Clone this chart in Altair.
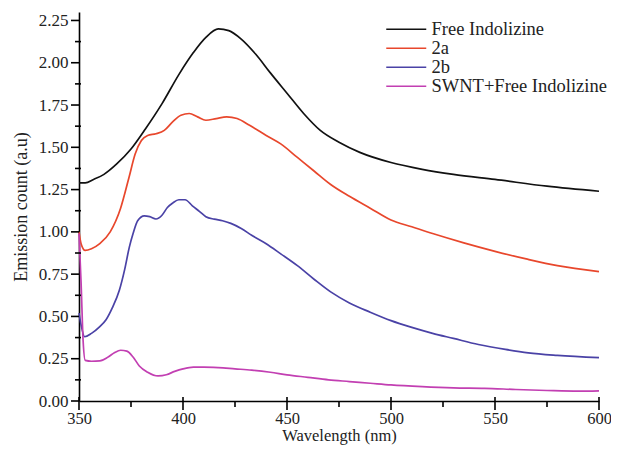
import altair as alt
import pandas as pd

series_names = ["Free Indolizine", "2a", "2b", "SWNT+Free Indolizine"]
series_colors = ["#111111", "#e8472c", "#4a42a6", "#c23fb2"]

wl_free = [350, 353, 357, 362, 368, 375, 382, 390, 398, 405, 411, 417, 422, 428, 435,
           442, 450, 458, 466, 475, 485, 500, 515, 530, 550, 575, 600]
val_free = [1.29, 1.29, 1.31, 1.34, 1.40, 1.49, 1.61, 1.76, 1.93, 2.06, 2.15, 2.20, 2.19,
            2.14, 2.05, 1.94, 1.82, 1.70, 1.60, 1.53, 1.47, 1.41, 1.37, 1.34, 1.31, 1.27, 1.24]

wl_2a = [350, 351, 353, 356, 360, 365, 370, 374, 377, 380, 383, 387, 391, 395, 399, 403,
         407, 411, 416, 421, 426, 432, 440, 447, 455, 463, 471, 480, 490, 500, 510, 520,
         535, 550, 565, 580, 600]
val_2a = [1.00, 0.93, 0.89, 0.90, 0.93, 1.00, 1.14, 1.32, 1.46, 1.54, 1.57, 1.58, 1.60,
          1.65, 1.69, 1.70, 1.68, 1.66, 1.67, 1.68, 1.67, 1.63, 1.57, 1.52, 1.44, 1.36,
          1.28, 1.21, 1.14, 1.07, 1.03, 0.99, 0.935, 0.885, 0.84, 0.80, 0.765]

wl_2b = [350, 351, 352.7, 356, 360, 363, 366, 369.4, 372, 374.2, 376, 378.2, 381.4, 384,
         387, 390, 392.5, 395, 398, 401, 404.5, 408, 411, 415, 419, 423, 428, 433, 440,
         447, 455, 463, 471, 480, 490, 500, 510, 520, 530, 542, 555, 566, 580, 600]
val_2b = [0.52, 0.45, 0.38, 0.40, 0.44, 0.48, 0.55, 0.655, 0.78, 0.91, 0.99, 1.066, 1.095,
          1.09, 1.076, 1.10, 1.144, 1.17, 1.19, 1.19, 1.154, 1.12, 1.09, 1.075, 1.066,
          1.05, 1.02, 0.98, 0.93, 0.87, 0.80, 0.72, 0.645, 0.58, 0.525, 0.475, 0.435, 0.40,
          0.37, 0.334, 0.305, 0.285, 0.27, 0.256]

wl_swnt = [350, 351, 352, 353, 356, 360, 364, 367, 370, 373, 376, 379, 383, 388, 392, 396,
           400, 405, 410, 417, 425, 433, 442, 450, 460, 470, 480, 490, 500, 515, 530, 545,
           560, 575, 590, 600]
val_swnt = [0.99, 0.70, 0.35, 0.24, 0.235, 0.237, 0.26, 0.285, 0.30, 0.295, 0.26, 0.207,
            0.17, 0.148, 0.155, 0.175, 0.19, 0.20, 0.20, 0.197, 0.19, 0.183, 0.17, 0.155,
            0.14, 0.125, 0.115, 0.105, 0.095, 0.085, 0.078, 0.075, 0.068, 0.062, 0.058, 0.06]

x_major = [350, 400, 450, 500, 550, 600]
x_minor = [375, 425, 475, 525, 575]
y_major = [0.0, 0.25, 0.5, 0.75, 1.0, 1.25, 1.5, 1.75, 2.0, 2.25]
y_minor = [0.125, 0.375, 0.625, 0.875, 1.125, 1.375, 1.625, 1.875, 2.125]

rows = []
for name, wls, vals in zip(series_names,
                           [wl_free, wl_2a, wl_2b, wl_swnt],
                           [val_free, val_2a, val_2b, val_swnt]):
    for w, v in zip(wls, vals):
        rows.append({"series": name, "wavelength": w, "value": v})
df = pd.DataFrame(rows)

FONT = "Liberation Serif"
W, H = 520, 389
x_scale = alt.Scale(domain=[350, 600], nice=False, zero=False)
y_scale = alt.Scale(domain=[0, 2.3], nice=False)

lines = alt.Chart(df).mark_line(strokeWidth=1.7, interpolate="monotone").encode(
    x=alt.X("wavelength:Q", scale=x_scale,
            axis=alt.Axis(title="Wavelength (nm)", values=x_major, format="d",
                          orient="bottom", ticks=False, labelFlush=False,
                          labelPadding=9, labelFontSize=16.5,
                          titleY=39, titleBaseline="alphabetic", titleFontSize=16.5)),
    y=alt.Y("value:Q", scale=y_scale,
            axis=alt.Axis(title="Emission count (a.u)", values=y_major, format=".2f",
                          orient="left", ticks=False, labelFlush=False,
                          labelPadding=11, titlePadding=8)),
    color=alt.Color("series:N",
                    scale=alt.Scale(domain=series_names, range=series_colors),
                    sort=series_names,
                    legend=alt.Legend(title=None, orient="none", legendX=318, legendY=8,
                                      symbolType="M-4,0H4", symbolSize=100,
                                      symbolStrokeWidth=1.7, labelOffset=16,
                                      labelFont=FONT, labelFontSize=18.5, labelColor="#222",
                                      rowPadding=-1, padding=0, labelLimit=400)),
)

tick_style = dict(color="#000", strokeWidth=1.6)

x_major_ticks = alt.Chart(pd.DataFrame({"wavelength": x_major})).mark_rule(**tick_style).encode(
    x=alt.X("wavelength:Q", scale=x_scale, axis=None),
    y=alt.value(H - 4), y2=alt.value(H + 9))
x_minor_ticks = alt.Chart(pd.DataFrame({"wavelength": x_minor})).mark_rule(**tick_style).encode(
    x=alt.X("wavelength:Q", scale=x_scale, axis=None),
    y=alt.value(H), y2=alt.value(H + 6))
y_major_ticks = alt.Chart(pd.DataFrame({"value": y_major})).mark_rule(**tick_style).encode(
    y=alt.Y("value:Q", scale=y_scale, axis=None),
    x=alt.value(-8), x2=alt.value(0))
y_minor_ticks = alt.Chart(pd.DataFrame({"value": y_minor})).mark_rule(**tick_style).encode(
    y=alt.Y("value:Q", scale=y_scale, axis=None),
    x=alt.value(-4), x2=alt.value(2))

chart = alt.layer(lines, x_major_ticks, x_minor_ticks, y_major_ticks, y_minor_ticks).resolve_axis(
    x="independent", y="independent"
).properties(
    width=W, height=H,
    autosize=alt.AutoSizeParams(type="none"),
    padding={"left": 71, "top": 4, "right": 12, "bottom": 44},
).configure_view(stroke=None).configure_axis(
    grid=False, domainColor="#000", domainWidth=1.6,
    labelFont=FONT, labelFontSize=17, labelColor="#222",
    titleFont=FONT, titleFontSize=18, titleFontWeight="normal", titleColor="#222",
)

chart.save("out.html", embed_options={"renderer": "svg", "actions": False})
